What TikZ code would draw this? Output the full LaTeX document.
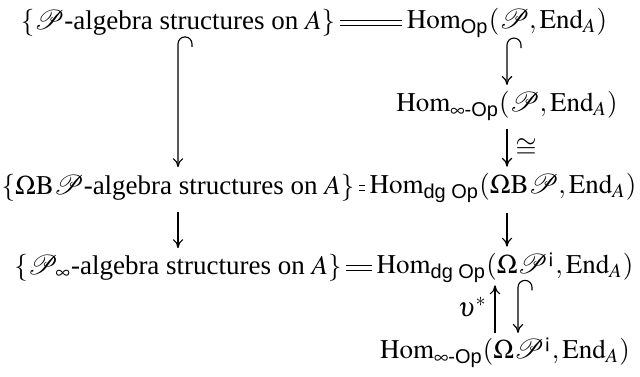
\documentclass[tikz,border=0pt]{standalone}
\usepackage{amsmath}
\usepackage{mathptmx}
\usepackage{mathrsfs}
\usepackage{fontspec}
\setmainfont{Liberation Serif}
\setsansfont{Liberation Sans}
\usetikzlibrary{arrows.meta}
\newcommand{\sP}{\mathscr{P}}
\newcommand{\Ko}{^{\textsf{¡}}}
\begin{document}
\begin{tikzpicture}[x=0.4pt,y=0.4pt,
  every node/.style={font=\fontsize{10.8}{13}\selectfont},
  txt/.style={inner sep=0pt,anchor=center},
  ar/.style={line width=0.45pt,-{To[length=3.6pt,width=4.2pt]}},
  eq/.style={line width=0.45pt,double,double distance=1.3pt,shorten <=1.6pt,shorten >=1.6pt}]
\useasboundingbox (0,0) rectangle (640,-376);
\coordinate (cL) at (178,0);
\coordinate (cR) at (507,0);
\coordinate (cU) at (495,0);
\coordinate (cH) at (518,0);
\node[txt] (l1) at (178,-23) {$\{\sP\text{-algebra structures on }A\}$};
\node[txt] (r1) at (507,-23) {$\mathrm{Hom}_{\textsf{Op}}(\sP,\mathrm{End}_A)$};
\node[txt] (r2) at (507,-106) {$\mathrm{Hom}_{\infty\textsf{-Op}}(\sP,\mathrm{End}_A)$};
\node[txt] (l3) at (178,-188) {$\{\Omega\mathrm{B}\sP\text{-algebra structures on }A\}$};
\node[txt] (r3) at (503,-188) {$\mathrm{Hom}_{\textsf{dg Op}}(\Omega\mathrm{B}\sP,\mathrm{End}_A)$};
\node[txt] (l4) at (178,-268) {$\{\sP_\infty\text{-algebra structures on }A\}$};
\node[txt] (r4) at (505,-268) {$\mathrm{Hom}_{\textsf{dg Op}}(\Omega\sP\Ko,\mathrm{End}_A)$};
\node[txt] (r5) at (505,-353) {$\mathrm{Hom}_{\infty\textsf{-Op}}(\Omega\sP\Ko,\mathrm{End}_A)$};
% equalities
\draw[eq] (l1.east) -- (r1.west);
\draw[eq] (l3.east) -- (r3.west);
\draw[eq] (l4.east) -- (r4.west);
% left column
\draw[ar] (l1.south -| cL) ++(14,-10) -- ++(0,3) arc[start angle=0,end angle=180,radius=7] -- ([yshift=2.8pt]l3.north -| cL);
\draw[ar] ([yshift=-4pt]l3.south -| cL) -- ([yshift=2.4pt]l4.north -| cL);
% right column
\draw[ar] (r1.south -| cR) ++(14,-10) -- ++(0,3) arc[start angle=0,end angle=180,radius=7] -- ([yshift=2.4pt]r2.north -| cR);
\draw[ar] ([yshift=-3.2pt]r2.south -| cR) -- node[right,inner sep=3.2pt]{$\cong$} ([yshift=2.4pt]r3.north -| cR);
\draw[ar] ([yshift=-4pt]r3.south -| cR) -- ([yshift=2.4pt]r4.north -| cR);
\draw[ar] ([yshift=2pt]r5.north -| cU) -- node[left,pos=0.55,inner sep=3pt]{$\upsilon^*$} ([yshift=-0.8pt]r4.south -| cU);
\draw[ar] (r4.south -| cH) ++(14,-7) -- ++(0,3) arc[start angle=0,end angle=180,radius=7] -- ([yshift=2pt]r5.north -| cH);
\end{tikzpicture}
\end{document}
